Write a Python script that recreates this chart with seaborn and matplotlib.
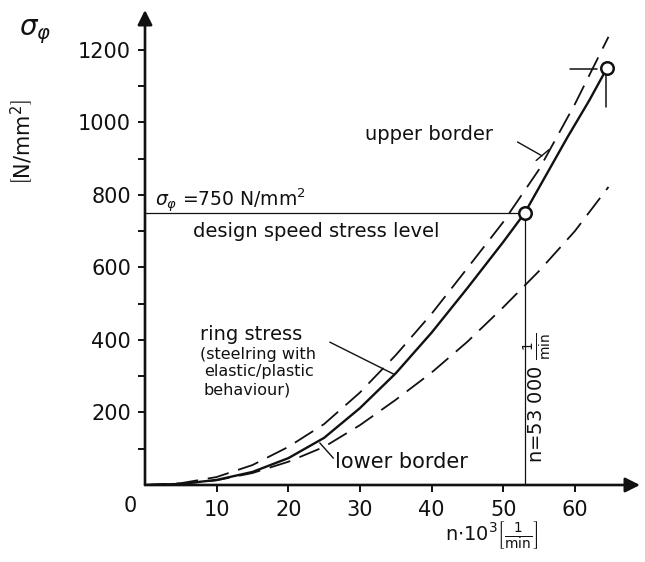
import numpy as np
import pandas as pd
import matplotlib
matplotlib.use("Agg")
import matplotlib.pyplot as plt
import seaborn as sns

# data (n in 10^3 1/min, stress in N/mm^2)
n_ring = [0, 5, 10, 15, 20, 25, 30, 35, 40, 45, 50, 53, 56, 59, 62, 64.5]
s_ring = [0, 3, 14, 36, 74, 130, 212, 308, 420, 543, 670, 750, 855, 960, 1060, 1150]

n_upper = [0, 5, 10, 15, 20, 25, 30, 35, 40, 45, 50, 55, 60, 64.7]
s_upper = [0, 5, 22, 55, 105, 168, 255, 358, 472, 598, 725, 870, 1050, 1236]

n_lower = [0, 5, 10, 15, 20, 25, 30, 35, 40, 45, 50, 55, 60, 64.7]
s_lower = [0, 3, 13, 33, 64, 105, 165, 235, 310, 395, 490, 590, 700, 822]

design_n = 53
design_s = 750
burst_n = 64.5
burst_s = 1150

x_ticks = [10, 20, 30, 40, 50, 60]
y_ticks = [200, 400, 600, 800, 1000, 1200]

sns.set_style("white")
plt.rcParams['font.family'] = ['DejaVu Sans']
ink = "#111111"

fig = plt.figure(figsize=(6.45, 5.62), dpi=100)
ax = fig.add_axes([145 / 645, 77 / 562, 495 / 645, 475 / 562])
ax.set_xlim(0, 69.1)
ax.set_ylim(0, 1310)

dash = (0, (12, 5.5))
sns.lineplot(x=n_ring, y=s_ring, ax=ax, color=ink, lw=1.7, sort=False)
sns.lineplot(x=n_upper, y=s_upper, ax=ax, color=ink, lw=1.3, sort=False, linestyle=dash)
sns.lineplot(x=n_lower, y=s_lower, ax=ax, color=ink, lw=1.3, sort=False, linestyle=dash)

# design speed guide lines
ax.plot([0, design_n - 0.6], [design_s, design_s], color=ink, lw=0.9)
ax.plot([design_n, design_n], [0, design_s - 15], color=ink, lw=0.9)
ax.plot([design_n, burst_n], [design_s, burst_s], ls="none", marker="o", ms=9,
        mfc="white", mec=ink, mew=1.8, zorder=5)

# marks near the burst point
ax.plot([59.3, 63.1], [1148, 1148], color=ink, lw=1.1)
ax.plot([64.4, 64.4], [1130, 1043], color=ink, lw=1.1)

# axes as arrows
for s in ax.spines.values():
    s.set_visible(False)
ax.annotate("", xy=(1, 0), xycoords="axes fraction", xytext=(0, 0),
            arrowprops=dict(arrowstyle="-|>", lw=1.9, color=ink, mutation_scale=22,
                            shrinkA=0, shrinkB=0))
ax.annotate("", xy=(0, 1), xycoords="axes fraction", xytext=(0, 0),
            arrowprops=dict(arrowstyle="-|>", lw=1.9, color=ink, mutation_scale=22,
                            shrinkA=0, shrinkB=0))

ax.set_xticks(x_ticks)
ax.set_yticks(y_ticks)
ax.set_yticks(np.arange(100, 1300, 200), minor=True)
ax.tick_params(axis="both", which="both", direction="out", length=5, width=1.4,
               colors=ink, labelsize=15, pad=5)
ax.tick_params(axis="x", pad=6)
ax.tick_params(axis="both", which="both", bottom=True, left=True)

kw = dict(color=ink, clip_on=False)
ax.text(-2.1, -58, "0", fontsize=15, ha="center", va="center", **kw)
ax.text(-15.4, 1250, r"$\sigma_\varphi$", fontsize=20, ha="center", va="center", **kw)
ax.text(-17.2, 946, r"$\left[\mathrm{N/mm^2}\right]$", fontsize=15, rotation=90,
        ha="center", va="center", **kw)
ax.text(41.9, -138, r"n$\cdot$10$^3$$\left[\frac{\mathrm{1}}{\mathrm{min}}\right]$", fontsize=14,
        ha="left", va="center", **kw)

ax.text(1.4, 783, r"$\sigma_\varphi$ =750 N/mm$^2$", fontsize=13.5, ha="left", va="center", **kw)
ax.text(6.7, 698, "design speed stress level", fontsize=14, ha="left", va="center", **kw)
ax.text(30.7, 966, "upper border", fontsize=14, ha="left", va="center", **kw)
ax.plot([52.0, 55.4], [946, 908], color=ink, lw=1.0)
ax.plot([54.6, 56.4], [895, 925], color=ink, lw=1.0)

ax.text(7.7, 414, "ring stress", fontsize=14, ha="left", va="center", **kw)
ax.text(7.7, 359, "(steelring with", fontsize=11.5, ha="left", va="center", **kw)
ax.text(8.2, 312, "elastic/plastic", fontsize=11.5, ha="left", va="center", **kw)
ax.text(8.2, 262, "behaviour)", fontsize=11.5, ha="left", va="center", **kw)
ax.plot([25.8, 34.8], [394, 305], color=ink, lw=1.0)

ax.text(26.5, 63, "lower border", fontsize=15, ha="left", va="center", **kw)
ax.plot([24.4, 26.3], [116, 74], color=ink, lw=1.0)

ax.text(54.8, 240, r"n=53 000 $\frac{\mathrm{1}}{\mathrm{min}}$", fontsize=14, rotation=90,
        ha="center", va="center", **kw)

ax.set_xlabel("")
ax.set_ylabel("")
fig.savefig("out.png", dpi=100, facecolor="white")
